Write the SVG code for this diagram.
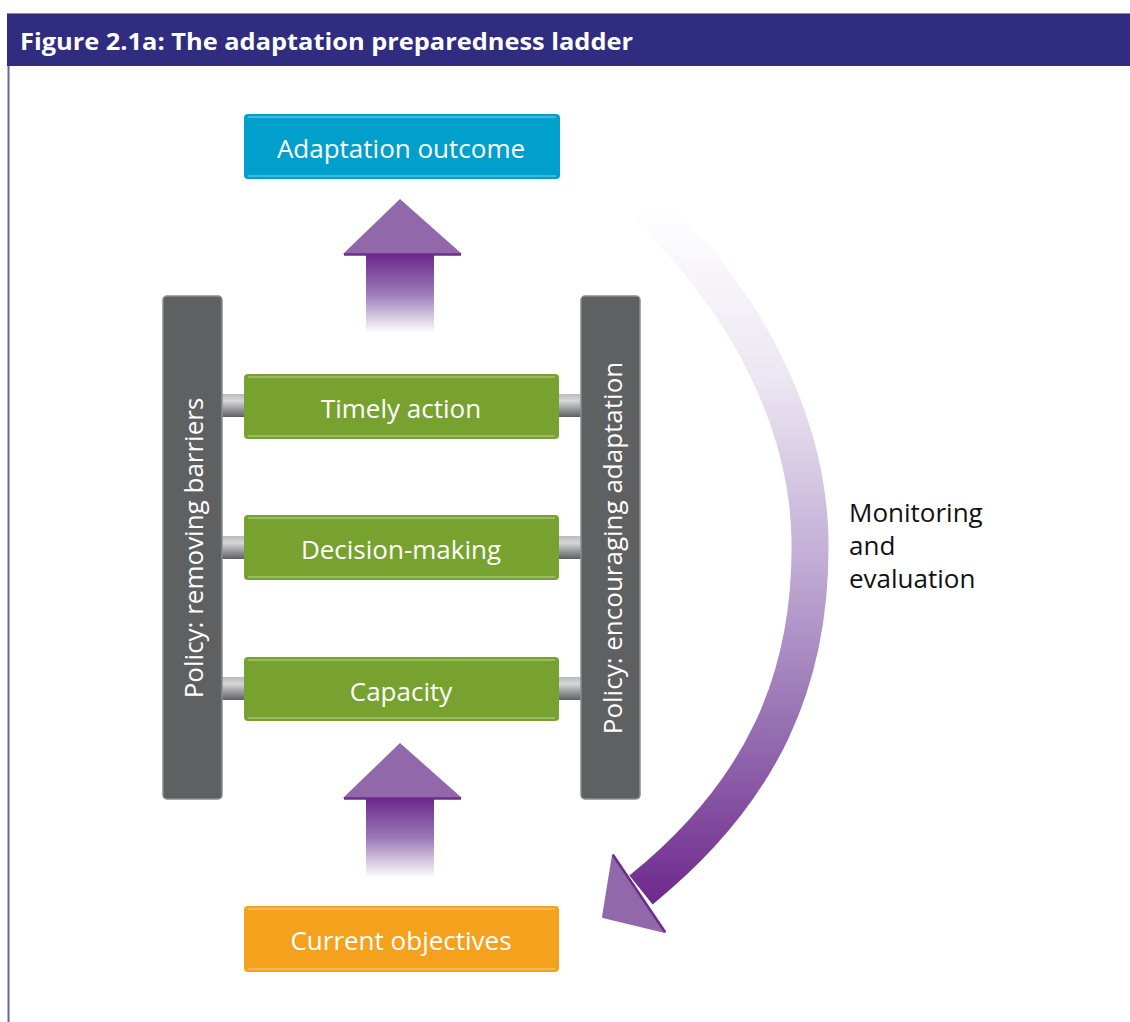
<svg xmlns="http://www.w3.org/2000/svg" width="1130" height="1022" viewBox="0 0 1130 1022">
<style>
.lbl{font-family:"Open Sans","Noto Sans","Liberation Sans",sans-serif;font-size:26px;fill:#ffffff;text-anchor:middle}
.mon{font-family:"Open Sans","Noto Sans","Liberation Sans",sans-serif;font-size:26px;fill:#111111}
.post{fill:#5f6062;stroke:#8b8c8e;stroke-width:1.5}
.hl{stroke:#ffffff;stroke-opacity:0.35;stroke-width:1.5;fill:none}
.head{fill:#9169ab}
.base{stroke:#6e2d8d;stroke-width:2.5}
</style>
<defs>
<linearGradient id="shaft" x1="0" y1="0" x2="0" y2="1">
<stop offset="0" stop-color="#6b278a"/>
<stop offset="0.5" stop-color="#9b79b7"/>
<stop offset="1" stop-color="#ffffff"/>
</linearGradient>
<linearGradient id="rung" x1="0" y1="0" x2="0" y2="1">
<stop offset="0" stop-color="#b9babc"/>
<stop offset="0.3" stop-color="#d6d7d9"/>
<stop offset="1" stop-color="#5e5f62"/>
</linearGradient>
<linearGradient id="arc" gradientUnits="userSpaceOnUse" x1="0" y1="205" x2="0" y2="900">
<stop offset="0" stop-color="#ffffff"/>
<stop offset="0.25" stop-color="#ece6f2"/>
<stop offset="0.5" stop-color="#c4b0d7"/>
<stop offset="0.75" stop-color="#9670b2"/>
<stop offset="1" stop-color="#6f2a8d"/>
</linearGradient>
</defs>

<!-- frame -->
<rect x="7" y="13" width="1123" height="53" fill="#302c80"/>
<line x1="7" y1="13.5" x2="1130" y2="13.5" stroke="#8a89a8" stroke-width="1"/>
<line x1="8.5" y1="66" x2="8.5" y2="1022" stroke="#6a62ae" stroke-width="2"/>
<text x="20" y="50" font-family="'Open Sans','Noto Sans','Liberation Sans',sans-serif" font-size="24" font-weight="bold" fill="#ffffff" textLength="613" lengthAdjust="spacingAndGlyphs">Figure 2.1a: The adaptation preparedness ladder</text>

<!-- connectors -->
<g id="connectors">
<g id="arrow-up-top">
<rect x="366" y="254" width="68" height="79" fill="url(#shaft)"/>
<polygon class="head" points="400,199 462,254 343,254"/>
<line class="base" x1="344" y1="254.5" x2="461" y2="254.5"/>
</g>
<g id="arrow-up-bottom">
<rect x="366" y="798" width="68" height="80" fill="url(#shaft)"/>
<polygon class="head" points="400,743 462,798 343,798"/>
<line class="base" x1="344" y1="798.5" x2="461" y2="798.5"/>
</g>
<g id="arrow-monitoring">
<path d="M648,208 C745,300 808,420 810,540 C812,680 762,792 641,890" fill="none" stroke="url(#arc)" stroke-width="37"/>
<polygon class="head" points="613,855 665,932 603,917" stroke="#9169ab" stroke-width="2" stroke-linejoin="round"/>
<line class="base" x1="613" y1="855" x2="665" y2="932"/>
</g>
<g id="rungs">
<rect x="222" y="394" width="23" height="23" fill="url(#rung)"/>
<rect x="558" y="394" width="24" height="23" fill="url(#rung)"/>
<rect x="222" y="536" width="23" height="23" fill="url(#rung)"/>
<rect x="558" y="536" width="24" height="23" fill="url(#rung)"/>
<rect x="222" y="677" width="23" height="23" fill="url(#rung)"/>
<rect x="558" y="677" width="24" height="23" fill="url(#rung)"/>
</g>
</g>

<!-- posts -->
<g id="post-left">
<rect class="post" x="163" y="296" width="59" height="503" rx="4"/>
<text class="lbl" transform="translate(203,548) rotate(-90)">Policy: removing barriers</text>
</g>
<g id="post-right">
<rect class="post" x="581" y="296" width="59" height="503" rx="4"/>
<text class="lbl" transform="translate(622,548) rotate(-90)">Policy: encouraging adaptation</text>
</g>

<!-- boxes -->
<g id="adaptation-outcome">
<rect x="244" y="114" width="316" height="65" rx="4" fill="#019fcc"/>
<line class="hl" x1="248" y1="117" x2="556" y2="117"/>
<line class="hl" x1="248" y1="176" x2="556" y2="176"/>
<text class="lbl" x="401" y="158">Adaptation outcome</text>
</g>
<g id="timely-action">
<rect x="244" y="374" width="315" height="65" rx="4" fill="#77a22f"/>
<line class="hl" x1="248" y1="377" x2="555" y2="377"/>
<line class="hl" x1="248" y1="436" x2="555" y2="436"/>
<text class="lbl" x="401" y="418">Timely action</text>
</g>
<g id="decision-making">
<rect x="244" y="515" width="315" height="65" rx="4" fill="#77a22f"/>
<line class="hl" x1="248" y1="518" x2="555" y2="518"/>
<line class="hl" x1="248" y1="577" x2="555" y2="577"/>
<text class="lbl" x="401" y="559">Decision-making</text>
</g>
<g id="capacity">
<rect x="244" y="657" width="315" height="64" rx="4" fill="#77a22f"/>
<line class="hl" x1="248" y1="660" x2="555" y2="660"/>
<line class="hl" x1="248" y1="718" x2="555" y2="718"/>
<text class="lbl" x="401" y="701">Capacity</text>
</g>
<g id="current-objectives">
<rect x="244" y="906" width="315" height="66" rx="4" fill="#f4a11e"/>
<line class="hl" x1="248" y1="909" x2="555" y2="909"/>
<line class="hl" x1="248" y1="969" x2="555" y2="969"/>
<text class="lbl" x="401" y="950">Current objectives</text>
</g>
<g id="monitoring-label">
<text class="mon" x="849" y="522">Monitoring</text>
<text class="mon" x="849" y="555">and</text>
<text class="mon" x="849" y="588">evaluation</text>
</g>
</svg>
